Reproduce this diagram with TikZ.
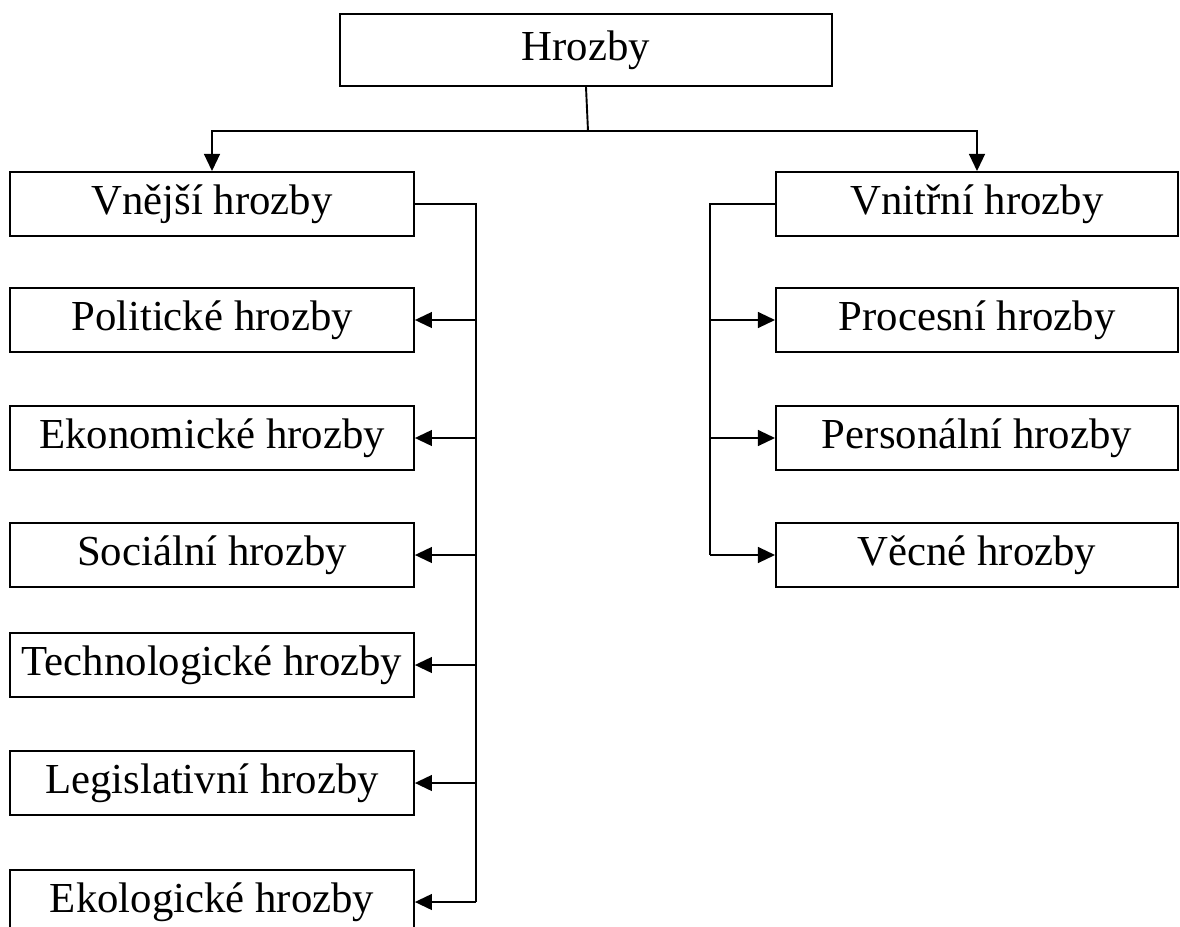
\documentclass[tikz,border=0pt]{standalone}
\usepackage{fontspec}
\setmainfont{Liberation Serif}
\usetikzlibrary{arrows.meta, positioning, calc}

\begin{document}
\begin{tikzpicture}[
        x=0.0111cm, y=-0.0111cm,
        box/.style={
                draw=black,
                fill=white,
                line width=0.6pt,
                minimum width=4.48cm,
                minimum height=0.71cm,
                inner sep=2pt,
                align=center,
                font=\fontsize{13.5}{16}\selectfont,
            },
        link/.style={
                draw=black, line width=0.6pt,
            },
        arrow/.style={
                link, -{Triangle[length=5.4pt, width=5pt]},
            },
    ]

    % Rozmery obrazku
    \useasboundingbox (0,0) rectangle (1180,926);

    % Horni box
    \node[box, minimum width=5.46cm, minimum height=0.8cm] (hrozby) at (586,50) {Hrozby};

    % Dve hlavni skupiny
    \node[box] (vnejsi) at (212,204) {Vnější hrozby};
    \node[box, minimum width=4.46cm] (vnitrni) at (977,204) {Vnitřní hrozby};

    % Vetveni z horniho boxu
    \coordinate (split) at (588,131);
    \draw[link] (hrozby.south) -- (split);
    \draw[arrow] (split) -| (vnejsi.north);
    \draw[arrow] (split) -| (vnitrni.north);

    % Vnejsi hrozby (levy sloupec)
    \foreach \name/\y/\text in {pol/320/Politické hrozby, eko/438/Ekonomické hrozby,
            soc/555/Sociální hrozby, tech/665/Technologické hrozby,
            leg/783/Legislativní hrozby, ekol/902/Ekologické hrozby} {
            \node[box] (\name) at (212,\y) {\text};
        }

    % Vnitrni hrozby (pravy sloupec)
    \foreach \name/\y/\text in {proc/320/Procesní hrozby, pers/438/Personální hrozby,
            vec/555/Věcné hrozby} {
            \node[box, minimum width=4.46cm] (\name) at (977,\y) {\text};
        }

    % Leva sbernice
    \coordinate (lspine) at (476,204);
    \draw[link] (vnejsi.east) -- (lspine) -- (lspine |- ekol.east);
    \foreach \name in {pol,eko,soc,tech,leg,ekol} {
            \draw[arrow] (lspine |- \name.east) -- (\name.east);
        }

    % Prava sbernice
    \coordinate (rspine) at (710,204);
    \draw[link] (vnitrni.west) -- (rspine) -- (rspine |- vec.west);
    \foreach \name in {proc,pers,vec} {
            \draw[arrow] (rspine |- \name.west) -- (\name.west);
        }

\end{tikzpicture}
\end{document}
